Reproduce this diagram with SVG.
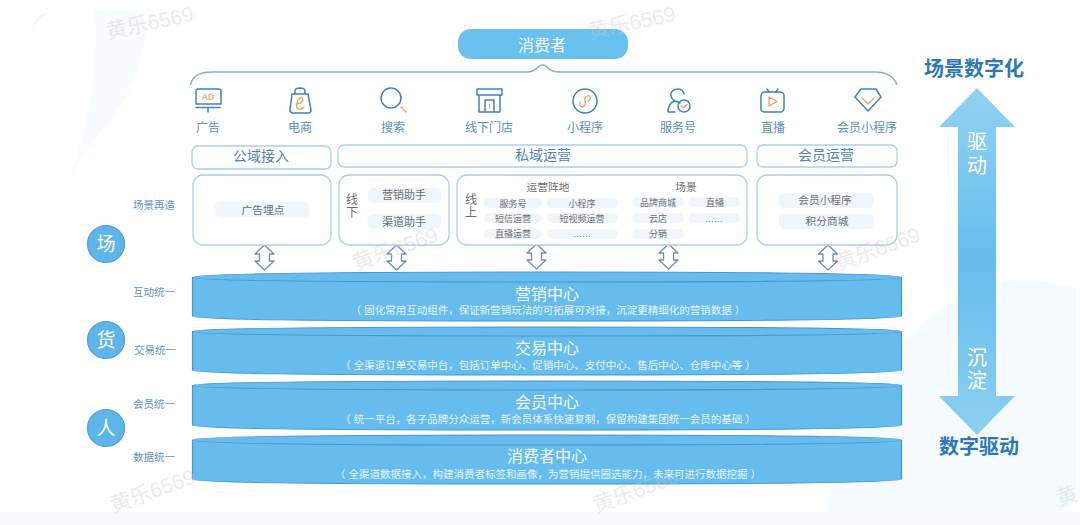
<svg xmlns="http://www.w3.org/2000/svg" width="1080" height="525" viewBox="0 0 1080 525">
<style>
text{font-family:"Liberation Sans","Noto Sans CJK SC",sans-serif;text-anchor:middle}
.box{fill:#fff;stroke:#a9d0ee;stroke-width:1.3}
.pill{fill:#f0f6fc}
.g{fill:#6f6f6f;font-size:10.700px}
.l{fill:#6f6f6f;font-size:12px}
.m{fill:#6f6f6f;font-size:11px}
.x{fill:#6f6f6f;font-size:9px}
.s{fill:#5d93c4;font-size:10.500px}
.ic{fill:#5a8fbe;font-size:12px}
.h{fill:#4f84b5;font-size:14px}
.i{fill:none;stroke:#3d84bd;stroke-width:1.5;stroke-linecap:round;stroke-linejoin:round}
.o{fill:none;stroke:#eda06a;stroke-width:1.3;stroke-linecap:round;stroke-linejoin:round}
.band{fill:#66bded;stroke:#4595d0;stroke-width:1.2}
.t{fill:#f2f9fe;font-size:16px}
.d{fill:#e6f4fc;font-size:10.500px}
.c{fill:#5db5ea;stroke:#4f9ed6;stroke-width:1.2}
.ct{fill:#fff;font-size:19px}
.w{fill:#c6cad0;font-size:21px;opacity:.36}
.big{fill:#2d78b5;font-size:20px;font-weight:bold}
.a{fill:#fff;font-size:20px}
.dbl{fill:#fff;stroke:#6d8dbd;stroke-width:1.3;stroke-linejoin:round}
</style>
<defs>
<linearGradient id="up" x1="0" y1="0" x2="0" y2="1"><stop offset="0" stop-color="#92d2f3"/><stop offset="1" stop-color="#66bded"/></linearGradient>
<linearGradient id="dn" x1="0" y1="0" x2="0" y2="1"><stop offset="0" stop-color="#66bded"/><stop offset="1" stop-color="#8ccff2"/></linearGradient>
<path id="dbl" d="M0 0L9.500 9H5V16H9.500L0 25L-9.500 16H-5V9H-9.500Z"/>
</defs>
<rect width="1080" height="525" fill="#fff"/>
<g id="background">
<path d="M0 512H1080V525H0Z" fill="#f9fafc"/>
<path d="M30 40Q32 14 52 10Q30 22 30 40Z" fill="#f4f6f8"/>
<path d="M95 10H145Q150 70 110 120Q85 150 70 178Q100 90 95 10Z" fill="#f8fcfe"/>
<path d="M826 512Q860 320 1010 280Q1040 278 1076 288V495Q1072 512 1050 512Z" fill="#f5fbff"/>
</g>
<g id="consumer">
<rect x="458" y="29" width="170" height="30" rx="13" fill="#69c1f0"/>
<text x="542" y="51" fill="#f0f9fe" font-size="16">消费者</text>
</g>
<g id="connectors">
<path d="M190.500 85Q193 72 212 72H526Q534 72 538 67Q543 63 547 67Q551 72 560 72H877Q893 73 897 85" fill="none" stroke="#79b0dc" stroke-width="1.400"/>
<use href="#dbl" class="dbl" x="264.500" y="245"/>
<use href="#dbl" class="dbl" x="396.500" y="245"/>
<use href="#dbl" class="dbl" x="536.500" y="244"/>
<use href="#dbl" class="dbl" x="668.500" y="244"/>
<use href="#dbl" class="dbl" x="828" y="245"/>
</g>
<g id="icon-ad">
<path class="i" d="M196 104V91Q196 89 198 89H219Q221 89 221 91V104H196M196 107.500H220M208 108V112"/>
<text x="208" y="100" fill="#f0ab7b" font-size="8.500" font-weight="bold">AD</text>
<text class="ic" x="208" y="132">广告</text>
</g>
<g id="icon-ecommerce">
<path class="i" d="M295 94V91Q295 88 300 88Q305 88 305 91V94M292 94H308L311 110Q311 113 308 113H293Q290 113 290 110Z"/>
<path class="o" d="M297 104Q303 103 303 99Q301 96 298 100Q295 106 298 109Q301 110 304 107"/>
<text class="ic" x="300" y="132">电商</text>
</g>
<g id="icon-search">
<circle class="i" cx="391" cy="98" r="10"/>
<path class="o" d="M401 107L406 112"/>
<text class="ic" x="393" y="132">搜索</text>
</g>
<g id="icon-store">
<path class="i" d="M477 89H502V95H477ZM479 95V112H500V95M485 112V100H494V112"/>
<path class="o" d="M489.500 104V108"/>
<text class="ic" x="489" y="132">线下门店</text>
</g>
<g id="icon-miniprogram">
<circle class="i" cx="585" cy="101" r="12"/>
<path class="o" d="M580 102V105Q581 108 584 106Q586 104 585 101Q584 97 587 96Q590 95 590.500 98Q590 101 588 101"/>
<text class="ic" x="585" y="132">小程序</text>
</g>
<g id="icon-service">
<path class="i" d="M668 112Q668 103 675 101Q670 98 671 93Q673 89 678 89Q683 89 684 94M675 112H668M675 101Q678 102 680 103"/>
<circle class="i" cx="684" cy="106" r="6"/>
<path class="o" d="M681 106L683.500 108L687 104.500"/>
<text class="ic" x="678" y="132">服务号</text>
</g>
<g id="icon-live">
<rect class="i" x="761" y="92" width="23" height="20" rx="3.500"/>
<path class="i" d="M767 89L769 92M778 89L776 92"/>
<path class="o" d="M769 97V106L777 101.500Z"/>
<text class="ic" x="773" y="132">直播</text>
</g>
<g id="icon-member">
<path class="i" d="M861 89H876L881 97L868 111L855 97Z"/>
<path class="o" d="M862 98L868 104L874 98"/>
<text class="ic" x="867" y="132">会员小程序</text>
</g>
<g id="channel-public">
<rect class="box" x="192" y="146" width="139" height="23" rx="6"/>
<text class="h" x="261" y="161">公域接入</text>
</g>
<g id="channel-private">
<rect class="box" x="338" y="145" width="409" height="22" rx="6"/>
<text class="h" x="543" y="160">私域运营</text>
</g>
<g id="channel-member">
<rect class="box" x="757" y="145" width="140" height="22" rx="6"/>
<text class="h" x="826" y="160">会员运营</text>
</g>
<g id="panel-ad">
<rect class="box" x="193" y="175" width="138" height="70" rx="10"/>
<rect class="pill" x="215" y="202" width="95" height="15" rx="5"/>
<text class="g" x="263" y="214">广告埋点</text>
</g>
<g id="panel-offline">
<rect class="box" x="339" y="175" width="110" height="70" rx="10"/>
<text class="l" x="352" y="204">线</text>
<text class="l" x="352" y="217">下</text>
<rect class="pill" x="368" y="188" width="73" height="15" rx="5"/>
<rect class="pill" x="368" y="214" width="73" height="15" rx="5"/>
<text class="m" x="404" y="199">营销助手</text>
<text class="m" x="404" y="226">渠道助手</text>
</g>
<g id="panel-online">
<rect class="box" x="457" y="175" width="290" height="70" rx="10"/>
<text class="l" x="471" y="204">线</text>
<text class="l" x="471" y="217">上</text>
<text class="g" x="548" y="191">运营阵地</text>
<text class="g" x="686" y="191">场景</text>
<rect class="pill" x="484" y="198" width="58" height="10" rx="5"/><text class="x" x="513" y="207">服务号</text>
<rect class="pill" x="547" y="198" width="71" height="10" rx="5"/><text class="x" x="582" y="207">小程序</text>
<rect class="pill" x="484" y="213" width="58" height="10" rx="5"/><text class="x" x="513" y="222">短信运营</text>
<rect class="pill" x="547" y="213" width="71" height="10" rx="5"/><text class="x" x="582" y="222">短视频运营</text>
<rect class="pill" x="484" y="229" width="58" height="10" rx="5"/><text class="x" x="513" y="237">直播运营</text>
<rect class="pill" x="547" y="229" width="71" height="10" rx="5"/><text class="x" x="582" y="237">……</text>
<rect class="pill" x="632" y="197" width="52" height="10" rx="5"/><text class="x" x="658" y="206">品牌商城</text>
<rect class="pill" x="689" y="197" width="51" height="10" rx="5"/><text class="x" x="715" y="206">直播</text>
<rect class="pill" x="632" y="213" width="52" height="10" rx="5"/><text class="x" x="658" y="222">云店</text>
<rect class="pill" x="689" y="213" width="51" height="10" rx="5"/><text class="x" x="714" y="222">……</text>
<rect class="pill" x="632" y="229" width="52" height="10" rx="5"/><text class="x" x="658" y="237">分销</text>
</g>
<g id="panel-member">
<rect class="box" x="757" y="175" width="140" height="70" rx="10"/>
<rect class="pill" x="779" y="193" width="95" height="15" rx="5"/>
<rect class="pill" x="779" y="214" width="95" height="15" rx="5"/>
<text class="g" x="825" y="204">会员小程序</text>
<text class="g" x="827" y="225">积分商城</text>
</g>
<g id="side-labels">
<text class="s" x="154" y="209">场景再造</text>
<text class="s" x="154" y="296">互动统一</text>
<text class="s" x="155" y="354">交易统一</text>
<text class="s" x="154" y="408">会员统一</text>
<text class="s" x="154" y="461">数据统一</text>
</g>
<g id="circle-scene"><circle class="c" cx="106" cy="244" r="18.500"/><text class="ct" x="106" y="251">场</text></g>
<g id="circle-goods"><circle class="c" cx="106" cy="340" r="18.500"/><text class="ct" x="106" y="347">货</text></g>
<g id="circle-people"><circle class="c" cx="106" cy="428" r="18.500"/><text class="ct" x="106" y="435">人</text></g>
<g id="band-marketing">
<path class="band" d="M192.500 277.500Q192.500 272 547 272Q901.500 272 901.500 277.500V316Q901.500 321 547 321Q192.500 321 192.500 316Z"/>
<path d="M192.500 277.500Q192.500 282 547 282Q901.500 282 901.500 277.500" fill="none" stroke="#4595d0" stroke-width="1.200"/>
<text class="t" x="547" y="300">营销中心</text>
<text class="d" x="548" y="314">（ 固化常用互动组件，保证新营销玩法的可拓展可对接，沉淀更精细化的营销数据 ）</text>
</g>
<g id="band-transaction">
<path class="band" d="M192.500 331.500Q192.500 327 547 327Q901.500 327 901.500 331.500V370Q901.500 375 547 375Q192.500 375 192.500 370Z"/>
<path d="M192.500 331.500Q192.500 336 547 336Q901.500 336 901.500 331.500" fill="none" stroke="#4595d0" stroke-width="1.200"/>
<text class="t" x="547" y="354">交易中心</text>
<text class="d" x="548" y="369">（ 全渠道订单交易中台，包括订单中心、促销中心、支付中心、售后中心、仓库中心等 ）</text>
</g>
<g id="band-member">
<path class="band" d="M192.500 385.500Q192.500 381 547 381Q901.500 381 901.500 385.500V425Q901.500 430 547 430Q192.500 430 192.500 425Z"/>
<path d="M192.500 385.500Q192.500 390 547 390Q901.500 390 901.500 385.500" fill="none" stroke="#4595d0" stroke-width="1.200"/>
<text class="t" x="547" y="408">会员中心</text>
<text class="d" x="548" y="423">（ 统一平台，各子品牌分众运营，新会员体系快速复制，保留构建集团统一会员的基础 ）</text>
</g>
<g id="band-consumer">
<path class="band" d="M192.500 440Q192.500 435 547 435Q901.500 435 901.500 440V479Q901.500 484 547 484Q192.500 484 192.500 479Z"/>
<path d="M192.500 440Q192.500 445 547 445Q901.500 445 901.500 440" fill="none" stroke="#4595d0" stroke-width="1.200"/>
<text class="t" x="547" y="462">消费者中心</text>
<text class="d" x="548" y="478">（ 全渠道数据接入，构建消费者标签和画像，为营销提供圈选能力，未来可进行数据挖掘 ）</text>
</g>
<g id="arrow-right">
<text class="big" x="974" y="76">场景数字化</text>
<path d="M977 88L1015 127H996V260H958V127H939Z" fill="url(#up)"/>
<path d="M958 260H996V396H1015L977 435L939 396H958Z" fill="url(#dn)"/>
<text class="a" x="977" y="149">驱</text>
<text class="a" x="977" y="173">动</text>
<text class="a" x="977" y="365">沉</text>
<text class="a" x="977" y="388">淀</text>
<text class="big" x="979" y="454">数字驱动</text>
</g>
<g id="watermarks">
<text class="w" x="150" y="30" transform="rotate(-12 150 24)">黄乐6569</text>
<text class="w" x="632" y="30" transform="rotate(-12 632 24)">黄乐6569</text>
<text class="w" x="396" y="256" transform="rotate(-20 396 250)">黄乐6569</text>
<text class="w" x="878" y="256" transform="rotate(-20 878 250)">黄乐6569</text>
<text class="w" x="153" y="498" transform="rotate(-20 153 492)">黄乐6569</text>
<text class="w" x="636" y="498" transform="rotate(-20 636 492)">黄乐6569</text>
<text class="w" x="1067" y="503" transform="rotate(-20 1067 497)">黄</text>
</g>
</svg>
